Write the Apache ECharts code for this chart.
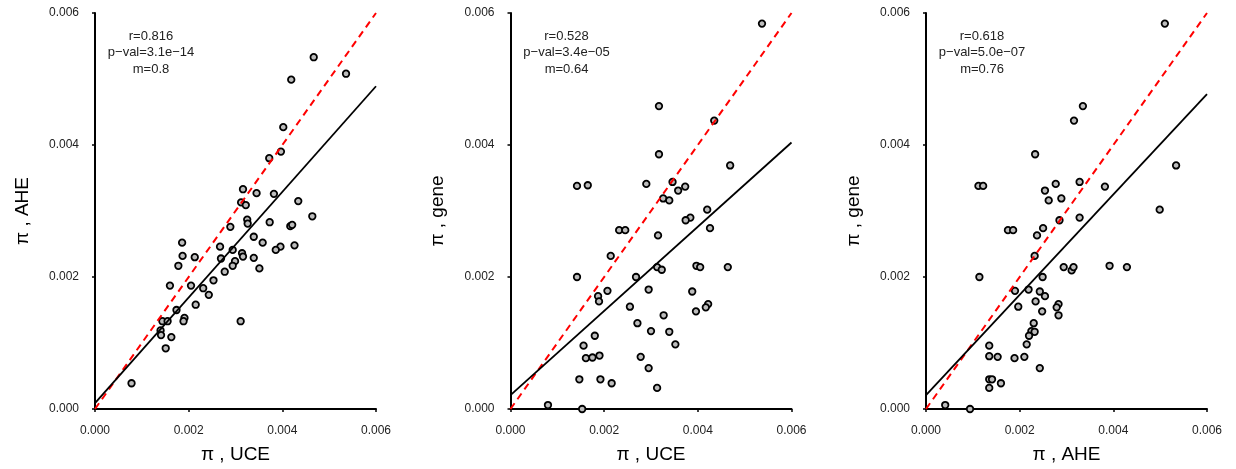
<!DOCTYPE html>
<html>
<head>
<meta charset="utf-8">
<title>pi comparison</title>
<script src="https://cdn.jsdelivr.net/npm/echarts@6/dist/echarts.min.js"></script>
<style>
  html, body { margin: 0; padding: 0; background: #fff; }
  #chart { width: 1236px; height: 469px; }
</style>
</head>
<body>
<div id="chart"></div>
<script>
// panel 1: pi UCE (x) vs pi AHE (y)
var uceA = [0.00402,0.00397,0.00372,0.00316,0.00345,0.00382,0.00312,0.00322,0.00434,0.00464,
            0.00325,0.00326,0.00289,0.00373,0.00417,0.00421,0.00339,0.00358,0.00186,0.00267,
            0.00396,0.00386,0.00426,0.00294,0.00187,0.00213,0.00314,0.00316,0.00269,0.00339,
            0.00299,0.00294,0.00178,0.00277,0.00351,0.00253,0.00205,0.00160,0.00231,0.00243,
            0.00215,0.00174,0.00191,0.00189,0.00311,0.00144,0.00155,0.00140,0.00141,0.00163,
            0.00151,0.00078,0.00467,0.00419,0.00536];
var aheA = [0.00427,0.00390,0.00380,0.00333,0.00327,0.00326,0.00313,0.00309,0.00315,0.00292,
            0.00287,0.00281,0.00276,0.00283,0.00277,0.00279,0.00261,0.00252,0.00252,0.00246,
            0.00246,0.00241,0.00248,0.00241,0.00232,0.00230,0.00236,0.00231,0.00228,0.00229,
            0.00224,0.00217,0.00217,0.00208,0.00213,0.00195,0.00187,0.00187,0.00183,0.00173,
            0.00158,0.00150,0.00138,0.00133,0.00133,0.00133,0.00133,0.00119,0.00112,0.00109,
            0.00092,0.00039,0.00533,0.00499,0.00508];

// panel 2: pi UCE (x) vs pi gene (y)
var uceB = [0.00537,0.00317,0.00435,0.00317,0.00469,0.00142,0.00165,0.00290,0.00346,0.00373,
            0.00358,0.00326,0.00339,0.00420,0.00384,0.00374,0.00426,0.00232,0.00245,0.00315,
            0.00214,0.00313,0.00323,0.00397,0.00405,0.00464,0.00142,0.00268,0.00207,0.00295,
            0.00388,0.00187,0.00189,0.00255,0.00422,0.00417,0.00396,0.00327,0.00271,0.00300,
            0.00339,0.00180,0.00352,0.00156,0.00161,0.00175,0.00190,0.00278,0.00295,0.00147,
            0.00192,0.00216,0.00313,0.00080,0.00153];
var geneB = [0.00584,0.00459,0.00437,0.00386,0.00369,0.00338,0.00339,0.00341,0.00344,0.00337,
             0.00331,0.00319,0.00316,0.00302,0.00290,0.00286,0.00274,0.00271,0.00271,0.00263,
             0.00232,0.00215,0.00211,0.00217,0.00215,0.00215,0.00200,0.00200,0.00179,0.00181,
             0.00178,0.00171,0.00163,0.00155,0.00159,0.00154,0.00148,0.00142,0.00130,0.00118,
             0.00117,0.00111,0.00098,0.00096,0.00077,0.00078,0.00081,0.00079,0.00062,0.00045,
             0.00045,0.00039,0.00032,0.00006,0.00000];

// panel 3: pi AHE (x) vs pi gene (y)
var aheC = [0.00510,0.00534,0.00335,0.00316,0.00233,0.00112,0.00122,0.00277,0.00328,0.00382,
            0.00254,0.00289,0.00262,0.00499,0.00328,0.00285,0.00250,0.00175,0.00186,0.00237,
            0.00232,0.00294,0.00311,0.00315,0.00392,0.00429,0.00114,0.00249,0.00219,0.00190,
            0.00243,0.00254,0.00234,0.00197,0.00283,0.00279,0.00248,0.00283,0.00230,0.00225,
            0.00232,0.00220,0.00215,0.00135,0.00135,0.00153,0.00189,0.00210,0.00243,0.00135,
            0.00141,0.00160,0.00135,0.00041,0.00094];
var geneC = [0.00584,0.00369,0.00459,0.00437,0.00386,0.00338,0.00338,0.00341,0.00344,0.00337,
             0.00331,0.00319,0.00316,0.00302,0.00290,0.00286,0.00274,0.00271,0.00271,0.00263,
             0.00232,0.00215,0.00210,0.00215,0.00217,0.00215,0.00200,0.00200,0.00181,0.00179,
             0.00178,0.00171,0.00163,0.00155,0.00159,0.00154,0.00148,0.00142,0.00130,0.00118,
             0.00117,0.00111,0.00098,0.00096,0.00080,0.00079,0.00077,0.00079,0.00062,0.00045,
             0.00045,0.00039,0.00032,0.00006,0.00000];

// fitted lines (intercept, slope) and stats text
var intercepts = [0.00009, 0.00021, 0.00021];
var slopes = [0.80, 0.638, 0.76];
var statR = ['0.816', '0.528', '0.618'];
var statP = ['3.1e\u221214', '3.4e\u221205', '5.0e\u221207'];
var statM = ['0.8', '0.64', '0.76'];
var xNames = ['\u03c0 , UCE', '\u03c0 , UCE', '\u03c0 , AHE'];
var yNames = ['\u03c0 , AHE', '\u03c0 , gene', '\u03c0 , gene'];
var xMax = 0.006;

var panels = [[uceA, aheA], [uceB, geneB], [aheC, geneC]];
var gridLeft = [95, 510.5, 926];
var font = 'Liberation Sans, Arial, sans-serif';

var myChart = echarts.init(document.getElementById('chart'));

var grids = [], xAxes = [], yAxes = [], series = [], graphics = [];
panels.forEach(function (p, i) {
    grids.push({ left: gridLeft[i], top: 13, width: 281, height: 396 });
    var axisCommon = {
        type: 'value', gridIndex: i, min: 0, max: 0.006, interval: 0.002,
        nameLocation: 'middle',
        nameTextStyle: { fontSize: 19, color: '#000', fontFamily: font },
        axisLine: { show: true, lineStyle: { color: '#000', width: 2 } },
        axisTick: { show: true, length: 3, lineStyle: { color: '#000', width: 1.5 } },
        axisLabel: {
            fontSize: 12, color: '#222', fontFamily: font, margin: 16,
            formatter: function (v) { return v.toFixed(3); }
        },
        splitLine: { show: false }
    };
    xAxes.push(Object.assign({}, axisCommon, { name: xNames[i], nameGap: 36 }));
    yAxes.push(Object.assign({}, axisCommon, { name: yNames[i], nameGap: 63 }));

    series.push({
        type: 'scatter', xAxisIndex: i, yAxisIndex: i,
        symbolSize: 6.5,
        itemStyle: { color: '#bcbcbc', borderColor: '#000', borderWidth: 1.8, opacity: 1 },
        data: p[0].map(function (x, k) { return [x, p[1][k]]; }),
        z: 2
    });
    series.push({
        type: 'line', xAxisIndex: i, yAxisIndex: i, symbol: 'none',
        lineStyle: { color: '#ff0000', width: 2, type: [7, 5] },
        data: [[0, 0], [xMax, xMax]],
        z: 3
    });
    series.push({
        type: 'line', xAxisIndex: i, yAxisIndex: i, symbol: 'none',
        lineStyle: { color: '#000', width: 1.8 },
        data: [[0, intercepts[i]], [xMax, intercepts[i] + slopes[i] * xMax]],
        z: 4
    });

    var lines = ['r=' + statR[i], 'p\u2212val=' + statP[i], 'm=' + statM[i]];
    lines.forEach(function (t, k) {
        graphics.push({
            type: 'text', x: gridLeft[i] + 56, y: 36 + k * 16.7,
            style: { text: t, fontSize: 13, fontFamily: font, fill: '#222',
                     textAlign: 'center', textVerticalAlign: 'middle' }
        });
    });
});

myChart.setOption({
    animation: false,
    backgroundColor: '#fff',
    grid: grids,
    xAxis: xAxes,
    yAxis: yAxes,
    series: series,
    graphic: graphics
});
</script>
</body>
</html>
